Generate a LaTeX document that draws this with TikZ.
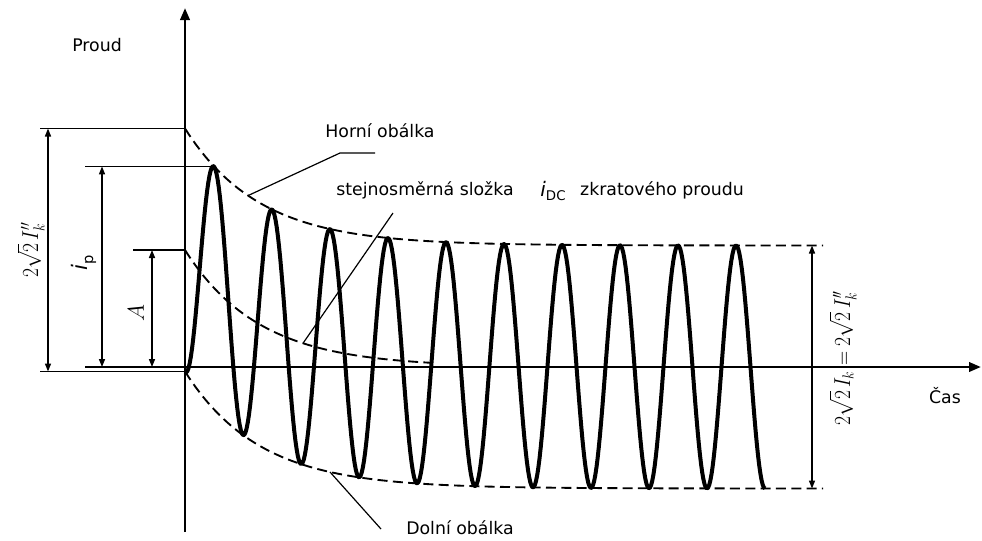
\documentclass[tikz,border=0pt]{standalone}
\usepackage[no-math]{fontspec}
\usepackage{amsmath}
\usepackage{graphicx}
\setmainfont{DejaVu Sans}
\usetikzlibrary{arrows.meta}

\tikzset{
  axis/.style={line width=2pt,-{Triangle[length=9pt,width=7pt]}},
  wave/.style={line width=3pt,line join=round},
  envelope/.style={line width=1.4pt,dash pattern=on 7.5pt off 4pt},
  extline/.style={line width=1.2pt},
  dimline/.style={line width=1.1pt,{Triangle[length=6pt,width=4.5pt]}-{Triangle[length=6pt,width=4.5pt]}},
  leader/.style={line width=0.9pt},
  txt/.style={inner sep=0.75pt,font=\fontsize{13}{15}\selectfont},
  mathtxt/.style={inner sep=0pt,font=\fontsize{17}{20}\selectfont,rotate=90}
}
\newcommand{\narrow}[1]{\scalebox{0.85}[1]{#1}}

\begin{document}
\begin{tikzpicture}[x=0.75pt,y=0.75pt,yscale=-1,xscale=1,
  declare function={dc(\t)=117*exp(-\t/74);}]
\useasboundingbox (0,0) rectangle (982,540);

%Coordinates
\coordinate (O) at (185,367);
\coordinate (ytop) at (185,8);
\coordinate (ybot) at (185,532);
\coordinate (xend) at (981,367);
\coordinate (us) at (185,128.5);
\coordinate (ls) at (185,371.5);
\coordinate (pk) at (214,166.4);
\coordinate (dcs) at (185,250);

%Axes
\draw [axis] (ybot) -- (ytop);
\draw [axis] (O) -- (xend);

%Curves
\draw [wave] plot[domain=0:580,samples=500] ({185+\x},{367-dc(\x)+121.5*cos(6.206897*\x)});
\draw [envelope] plot[domain=0:638,samples=120] ({185+\x},{367-dc(\x)-121.5});
\draw [envelope] plot[domain=0:638,samples=120] ({185+\x},{367-dc(\x)+121.5});
\draw [envelope] plot[domain=0:245,samples=60] ({185+\x},{367-dc(\x)});

%Extension lines
\coordinate (e1) at (40,128.5);
\coordinate (e2) at (40,371.5);
\coordinate (e3) at (85,166.4);
\coordinate (e4) at (85,367);
\coordinate (e5) at (133,250);
\draw [extline] (us) -- (e1);
\draw [extline] (ls) -- (e2);
\draw [extline] (pk) -- (e3);
\draw [extline] (O) -- (e4);
\draw [extline] (dcs) -- (e5);

%Dimension lines
\coordinate (d1a) at (48,128.5);
\coordinate (d1b) at (48,371.5);
\coordinate (d2a) at (102,166.4);
\coordinate (d2b) at (102,367);
\coordinate (d3a) at (152,250);
\coordinate (d3b) at (152,367);
\coordinate (d4a) at (812,245.5);
\coordinate (d4b) at (812,488.5);
\draw [dimline] (d1a) -- (d1b);
\draw [dimline] (d2a) -- (d2b);
\draw [dimline] (d3a) -- (d3b);
\draw [dimline] (d4a) -- (d4b);

%Leaders
\coordinate (h1) at (375,153);
\coordinate (h2) at (340,153);
\coordinate (h3) at (248,195.6);
\coordinate (s1) at (393,213);
\coordinate (s2) at (303,343.3);
\coordinate (l1) at (330,472);
\coordinate (l2) at (381,529);
\draw [leader] (h1) -- (h2) -- (h3);
\draw [leader] (s1) -- (s2);
\draw [leader] (l1) -- (l2);

% Text Node
\draw (97,45) node (proud) [txt] {Proud};
% Text Node
\draw (945,396) node (cas) [txt] {Čas};
% Text Node
\draw (380,131) node (horni) [txt] {Horní obálka};
% Text Node
\draw (425,190) node (slozka) [txt] {stejnosměrná složka};
% Text Node
\draw (553,191) node (idc) [inner sep=0.75pt] {\fontsize{15}{18}\selectfont\textit{i}\raisebox{-0.45ex}{\fontsize{10}{12}\selectfont DC}};
% Text Node
\draw (662,190) node (zkrat) [txt] {zkratového proudu};
% Text Node
\draw (460,528) node (dolni) [txt] {Dolní obálka};
% Text Node
\draw (31,250) node (lbik) [mathtxt] {\narrow{$2\sqrt{2}\,I''_{k}$}};
% Text Node
\draw (84,263) node (lbip) [inner sep=0.75pt,rotate=90] {\fontsize{16}{18}\selectfont\textit{i}\raisebox{-0.45ex}{\fontsize{11}{12}\selectfont p}};
% Text Node
\draw (136,313) node (lba) [mathtxt] {$A$};
% Text Node
\draw (843,358) node (lbk) [mathtxt] {\narrow{$2\sqrt{2}\,I_{k}=2\sqrt{2}\,I''_{k}$}};

\end{tikzpicture}
\end{document}
